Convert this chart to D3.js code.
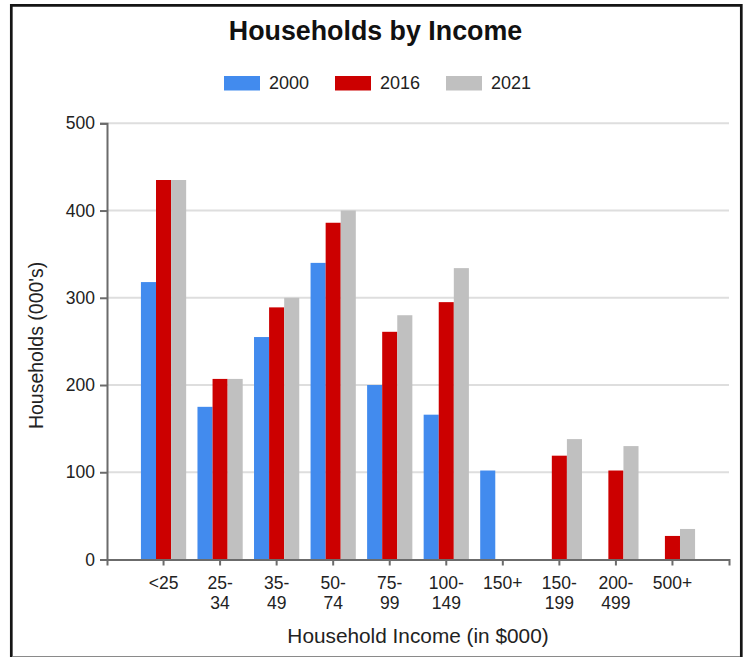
<!DOCTYPE html>
<html>
<head>
<meta charset="utf-8">
<script src="https://cdn.jsdelivr.net/npm/d3@7/dist/d3.min.js"></script>
<style>
  html, body { margin: 0; padding: 0; background: #fff; }
  svg { display: block; font-family: Arial, "Liberation Sans", sans-serif; }
</style>
</head>
<body>
<svg id="chart" width="748" height="657"></svg>
<script>
// Income brackets (in $000) and household counts (000's) per year
const categories = ["<25", "25-34", "35-49", "50-74", "75-99", "100-149", "150+", "150-199", "200-499", "500+"];
const series = ["2000", "2016", "2021"];
const values2000 = [318, 175, 255, 340, 200, 166, 102, null, null, null];
const values2016 = [435, 207, 289, 386, 261, 295, null, 119, 102, 27];
const values2021 = [435, 207, 300, 400, 280, 334, null, 138, 130, 35];
const yTicks = [0, 100, 200, 300, 400, 500];
const colors = ["#428bee", "#cc0000", "#c0c0c0"];

const seriesValues = [values2000, values2016, values2021];
const rows = categories.map((c, i) => ({
  category: c,
  values: series.map((s, k) => ({ key: s, value: seriesValues[k][i] }))
}));

const svg = d3.select("#chart");
const W = 748, H = 657;
const plot = { left: 107, right: 729, top: 123.3, bottom: 559.5 };

// frame
svg.append("rect").attr("width", W).attr("height", H).attr("fill", "#fff");
svg.append("path")
  .attr("d", `M11.3,${H + 2} V5.3 H741.3 V${H + 2}`)
  .attr("fill", "none").attr("stroke", "#151515").attr("stroke-width", 2.7);
svg.append("line")
  .attr("x1", 12.5).attr("x2", 740).attr("y1", 656.5).attr("y2", 656.5)
  .attr("stroke", "#8a8a8a").attr("stroke-width", 1);

// scales
const x0 = d3.scaleBand().domain(categories)
  .range([plot.left, plot.right]).paddingInner(0.2).paddingOuter(0.6);
const x1 = d3.scaleBand().domain(series).range([0, x0.bandwidth()]);
const y = d3.scaleLinear().domain([0, 500]).range([plot.bottom, plot.top]);

// gridlines
svg.append("g").selectAll("line")
  .data(yTicks.filter(t => t > 0))
  .join("line")
  .attr("x1", plot.left).attr("x2", plot.right)
  .attr("y1", d => y(d)).attr("y2", d => y(d))
  .attr("stroke", "#dedede").attr("stroke-width", 2);

// bars
svg.append("g").selectAll("g")
  .data(rows)
  .join("g")
  .attr("transform", d => `translate(${x0(d.category)},0)`)
  .selectAll("rect")
  .data(d => d.values.filter(v => v.value != null))
  .join("rect")
  .attr("x", d => x1(d.key))
  .attr("width", x1.bandwidth())
  .attr("y", d => y(d.value))
  .attr("height", d => y(0) - y(d.value))
  .attr("fill", d => colors[series.indexOf(d.key)]);

// y axis
const yAxis = svg.append("g")
  .attr("transform", `translate(${plot.left},0)`)
  .call(d3.axisLeft(y).tickValues(yTicks).tickSize(7).tickPadding(5));
yAxis.select(".domain").attr("stroke", "#6b6b6b").attr("stroke-width", 2);
yAxis.selectAll(".tick line").attr("stroke", "#6b6b6b").attr("stroke-width", 2);
yAxis.selectAll(".tick text").attr("font-size", 17.5).attr("fill", "#222")
  .attr("font-family", "Arial, 'Liberation Sans', sans-serif");

// x axis
const xAxis = svg.append("g")
  .attr("transform", `translate(0,${plot.bottom})`)
  .call(d3.axisBottom(x0).tickSize(6));
xAxis.select(".domain").attr("stroke", "#6b6b6b").attr("stroke-width", 2);
xAxis.selectAll(".tick line").attr("stroke", "#6b6b6b").attr("stroke-width", 2);
xAxis.selectAll(".tick text").each(function(d) {
  const t = d3.select(this);
  const parts = d.includes("-") ? [d.slice(0, d.indexOf("-") + 1), d.slice(d.indexOf("-") + 1)] : [d];
  t.text(null).attr("y", 29).attr("dy", null)
    .attr("font-size", 17.5).attr("fill", "#222")
    .attr("font-family", "Arial, 'Liberation Sans', sans-serif");
  parts.forEach((p, i) => {
    t.append("tspan").attr("x", 0).attr("dy", i === 0 ? 0 : 20).text(p);
  });
});

// axis titles
svg.append("text")
  .attr("x", (plot.left + plot.right) / 2).attr("y", 643)
  .attr("text-anchor", "middle").attr("font-size", 20.8).attr("fill", "#222")
  .text("Household Income (in $000)");
svg.append("text")
  .attr("transform", `translate(43,${(plot.top + plot.bottom) / 2 + 4}) rotate(-90)`)
  .attr("text-anchor", "middle").attr("font-size", 19.5).attr("fill", "#222")
  .text("Households (000's)");

// title
svg.append("text")
  .attr("x", 375.5).attr("y", 40)
  .attr("text-anchor", "middle").attr("font-size", 26.8).attr("font-weight", "bold")
  .attr("fill", "#111")
  .text("Households by Income");

// legend
const legend = svg.append("g").selectAll("g")
  .data(series)
  .join("g")
  .attr("transform", (d, i) => `translate(${224 + i * 111},76)`);
legend.append("rect")
  .attr("width", 36).attr("height", 14.5)
  .attr("fill", (d, i) => colors[i]);
legend.append("text")
  .attr("x", 45).attr("y", 13.3)
  .attr("font-size", 18).attr("fill", "#222")
  .text(d => d);
</script>
</body>
</html>
